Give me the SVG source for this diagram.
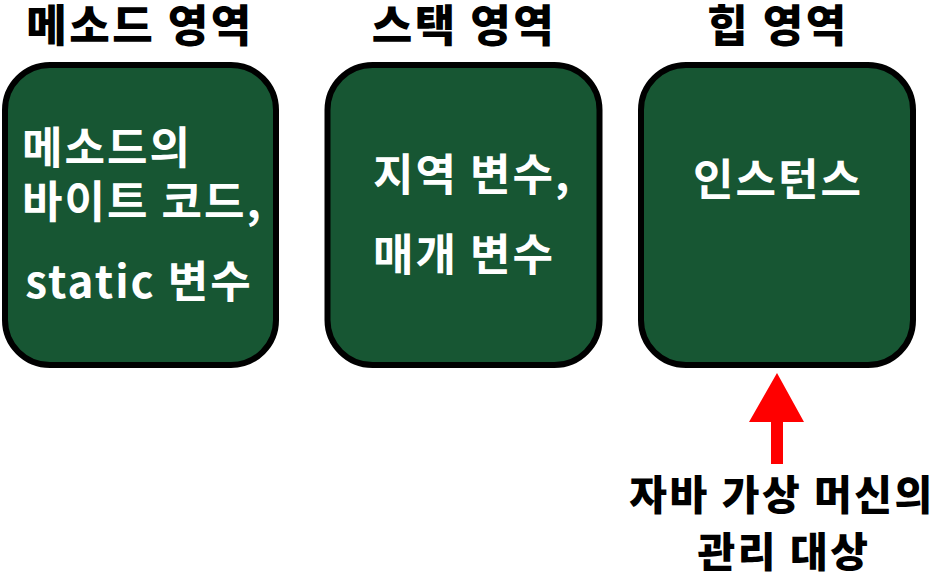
<svg xmlns="http://www.w3.org/2000/svg" width="933" height="579" viewBox="0 0 933 579">
<style>
.box{fill:#175633;stroke:#000;stroke-width:6}
.title{font-family:"Noto Sans CJK KR","Noto Sans",sans-serif;font-weight:900;font-size:44px;letter-spacing:2.5px;fill:#000;text-anchor:middle}
.inner{font-family:"Noto Sans CJK KR","Noto Sans",sans-serif;font-weight:700;font-size:44px;letter-spacing:2px;fill:#fff}
.note{font-family:"Noto Sans CJK KR","Noto Sans",sans-serif;font-weight:900;font-size:41px;letter-spacing:2.5px;fill:#000;text-anchor:middle}
</style>
<rect width="933" height="579" fill="#fff"/>
<g id="method-area">
<text class="title" x="140" y="42">메소드 영역</text>
<rect class="box" x="5" y="65" width="271" height="300" rx="45"/>
<text class="inner" x="22" y="164">메소드의<tspan x="22" y="218">바이트 코드,</tspan></text>
<text class="inner" x="139" y="298" text-anchor="middle">static 변수</text>
</g>
<g id="stack-area">
<text class="title" x="464" y="42">스택 영역</text>
<rect class="box" x="327.5" y="65" width="272" height="300" rx="45"/>
<text class="inner" x="373" y="191">지역 변수,</text>
<text class="inner" x="373" y="271">매개 변수</text>
</g>
<g id="heap-area">
<text class="title" x="778" y="42">힙 영역</text>
<rect class="box" x="641" y="65" width="272" height="300" rx="45"/>
<text class="inner" x="778" y="196" text-anchor="middle">인스턴스</text>
</g>
<g id="jvm-note">
<text class="note" x="782" y="510">자바 가상 머신의</text>
<text class="note" x="784" y="567">관리 대상</text>
</g>
<g id="connectors">
<polygon points="777,373 804,422 783,422 783,464 771,464 771,422 749,422" fill="#ff0000"/>
</g>
</svg>
